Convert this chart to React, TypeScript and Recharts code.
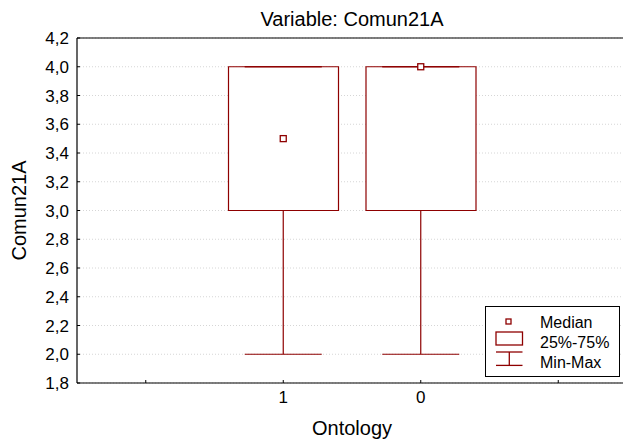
import React from 'react';
import { ComposedChart, Bar, Scatter, ErrorBar, XAxis, YAxis, CartesianGrid, Legend } from 'recharts';

const categories = ['', '1', '0', ' '];
const minValues: (number | null)[] = [null, 2.0, 2.0, null];
const q1Values: (number | null)[] = [null, 3.0, 3.0, null];
const medianValues: (number | null)[] = [null, 3.5, 4.0, null];
const q3Values: (number | null)[] = [null, 4.0, 4.0, null];
const maxValues: (number | null)[] = [null, 4.0, 4.0, null];
const yTicks = [1.8, 2.0, 2.2, 2.4, 2.6, 2.8, 3.0, 3.2, 3.4, 3.6, 3.8, 4.0, 4.2];
const legendLabels = ['Median', '25%-75%', 'Min-Max'];
const titleText = 'Variable: Comun21A';
const yLabel = 'Comun21A';
const xLabel = 'Ontology';

const RED = '#8e0000';
const FONT = '"Liberation Sans", Arial, Helvetica, sans-serif';

const data = categories.map((cat, i) => {
  const has = minValues[i] != null;
  return {
    cat,
    range: has ? [q1Values[i] as number, q3Values[i] as number] : null,
    min: minValues[i],
    median: medianValues[i],
    max: maxValues[i],
    lowErr: has ? [0, (q1Values[i] as number) - (minValues[i] as number)] : null,
    highErr: has ? [(maxValues[i] as number) - (q3Values[i] as number), 0] : null,
  };
});

const fmt = (v: number) => v.toFixed(1).replace('.', ',');

const Nothing = () => <g />;

const MedianMark = (p: any) => {
  if (p == null || p.cx == null || p.cy == null || isNaN(p.cx) || isNaN(p.cy)) return <g />;
  return <rect x={p.cx - 3} y={p.cy - 3} width={6} height={6} fill="#fff" stroke={RED} strokeWidth={1.3} />;
};

const LegendBox = () => (
  <div style={{ boxSizing: 'border-box', width: 135, height: 71, border: '1px solid #000', background: '#fff' }}>
    <svg width={133} height={69} style={{ display: 'block' }}>
      <rect x={20} y={12} width={5} height={5} fill="#fff" stroke={RED} strokeWidth={1.3} />
      <rect x={10} y={25} width={26.5} height={13} fill="#fff" stroke={RED} strokeWidth={1.3} />
      <line x1={10} x2={36.5} y1={45} y2={45} stroke={RED} strokeWidth={1.3} />
      <line x1={23.3} x2={23.3} y1={45} y2={58.4} stroke={RED} strokeWidth={1.3} />
      <line x1={10} x2={36.5} y1={58.4} y2={58.4} stroke={RED} strokeWidth={1.3} />
      {legendLabels.map((t, i) => (
        <text key={t} x={54} y={15 + i * 20} dominantBaseline="central" fontSize={16} fontFamily={FONT} fill="#000">
          {t}
        </text>
      ))}
    </svg>
  </div>
);

const YLabelContent = (props: any) => {
  const vb = props.viewBox || { x: 0, y: 0, width: 0, height: 0 };
  const cx = vb.x + 18.5;
  const cy = vb.y + vb.height / 2;
  return (
    <text x={cx} y={cy} transform={`rotate(-90 ${cx} ${cy})`} textAnchor="middle" dominantBaseline="central" fontSize={20} fontFamily={FONT} fill="#000">
      {yLabel}
    </text>
  );
};

export default function App() {
  return (
    <div style={{ position: 'absolute', left: 0, top: 0, width: 623, height: 442, overflow: 'hidden', background: '#fff' }}>
      <div style={{ position: 'absolute', left: 77, top: 9, width: 550, textAlign: 'center', fontSize: 20, lineHeight: '20px', fontFamily: FONT, color: '#000', zIndex: 2 }}>
        {titleText}
      </div>
      <ComposedChart width={627} height={442} data={data} margin={{ top: 37, right: 0, bottom: 0, left: 0 }} style={{ fontFamily: FONT }}>
        <CartesianGrid vertical={false} horizontal={true} stroke="#d6d6d6" strokeDasharray="1 2" />
        <XAxis
          xAxisId="top"
          orientation="top"
          dataKey="cat"
          height={1}
          tick={false}
          tickSize={-3}
          interval={0}
          axisLine={{ stroke: '#000', strokeWidth: 1.2 }}
          tickLine={{ stroke: '#000' }}
        />
        <XAxis
          dataKey="cat"
          height={59}
          interval={0}
          tickSize={-3}
          tickMargin={11}
          tick={{ fill: '#000', fontSize: 17, fontFamily: FONT }}
          axisLine={{ stroke: '#000', strokeWidth: 1.2 }}
          tickLine={{ stroke: '#000' }}
          label={{ value: xLabel, position: 'insideBottom', offset: 7, fontSize: 20, fill: '#000', fontFamily: FONT }}
        />
        <YAxis
          type="number"
          domain={[1.8, 4.2]}
          ticks={yTicks}
          interval={0}
          allowDataOverflow
          width={77}
          tickSize={-3}
          tickMargin={11}
          tickFormatter={fmt}
          tick={{ fill: '#000', fontSize: 17, fontFamily: FONT }}
          axisLine={{ stroke: '#000', strokeWidth: 1.2 }}
          tickLine={{ stroke: '#000' }}
          label={{ content: YLabelContent }}
        />
        <Bar dataKey="range" barSize={110} fill="#fff" stroke={RED} strokeWidth={1.2} isAnimationActive={false} />
        <Scatter dataKey="min" shape={Nothing} isAnimationActive={false}>
          <ErrorBar dataKey="lowErr" direction="y" width={38.5} stroke={RED} strokeWidth={1.2} isAnimationActive={false} />
        </Scatter>
        <Scatter dataKey="max" shape={Nothing} isAnimationActive={false}>
          <ErrorBar dataKey="highErr" direction="y" width={38.5} stroke={RED} strokeWidth={1.2} isAnimationActive={false} />
        </Scatter>
        <Scatter dataKey="median" shape={MedianMark} isAnimationActive={false} />
        <Legend
          layout="vertical"
          align="center"
          verticalAlign="middle"
          wrapperStyle={{ left: 485, top: 306, width: 135, height: 71 }}
          content={LegendBox}
        />
      </ComposedChart>
    </div>
  );
}
